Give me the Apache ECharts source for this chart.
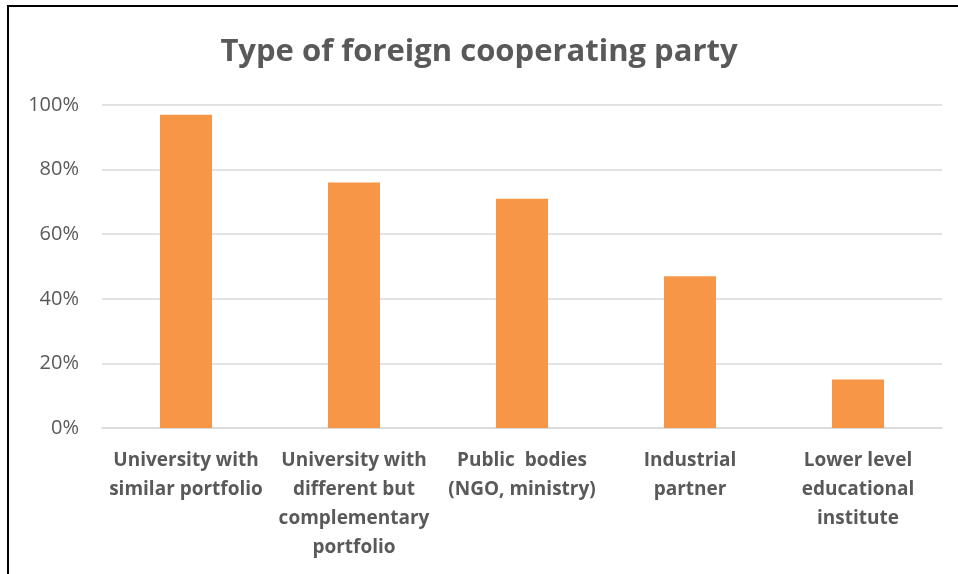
<!DOCTYPE html>
<html>
<head>
<meta charset="utf-8">
<script src="https://cdn.jsdelivr.net/npm/echarts@6/dist/echarts.min.js"></script>
<style>
  html, body { margin: 0; padding: 0; background: #fff; }
  #chart { width: 958px; height: 574px; }
</style>
</head>
<body>
<div id="chart"></div>
<script>
  // data
  const categories = [
    'University with\nsimilar portfolio',
    'University with\ndifferent but\ncomplementary\nportfolio',
    'Public  bodies\n(NGO, ministry)',
    'Industrial\npartner',
    'Lower level\neducational\ninstitute'
  ];
  const shares = [0.97, 0.76, 0.71, 0.47, 0.15];
  const yTicks = [0, 0.2, 0.4, 0.6, 0.8, 1.0];

  const chart = echarts.init(document.getElementById('chart'));

  chart.setOption({
    animation: false,
    title: {
      text: 'Type of foreign cooperating party',
      left: 'center',
      top: 32,
      textStyle: {
        fontFamily: 'Open Sans',
        fontWeight: 'bold',
        fontSize: 31,
        color: '#595959'
      }
    },
    grid: {
      left: 102,
      right: 16,
      top: 105,
      bottom: 146
    },
    xAxis: {
      type: 'category',
      data: categories,
      axisLine: { lineStyle: { color: '#d9d9d9', width: 1.5 } },
      axisTick: { show: false },
      axisLabel: {
        interval: 0,
        margin: 18,
        fontFamily: 'Open Sans',
        fontWeight: 'bold',
        fontSize: 19,
        lineHeight: 29,
        color: '#595959'
      }
    },
    yAxis: {
      type: 'value',
      min: yTicks[0],
      max: yTicks[yTicks.length - 1],
      interval: 0.2,
      axisLine: { show: false },
      axisTick: { show: false },
      splitLine: { lineStyle: { color: '#d9d9d9', width: 1.5 } },
      axisLabel: {
        margin: 23,
        fontFamily: 'Open Sans',
        fontSize: 20,
        color: '#595959',
        formatter: v => Math.round(v * 100) + '%'
      }
    },
    series: [{
      type: 'bar',
      data: shares,
      barWidth: 52,
      itemStyle: { color: '#f79646' }
    }],
    graphic: [{
      type: 'polyline',
      shape: { points: [[8, 574], [8, 6], [958, 6]] },
      style: { stroke: '#000', lineWidth: 2, fill: null }
    }]
  });
</script>
</body>
</html>
